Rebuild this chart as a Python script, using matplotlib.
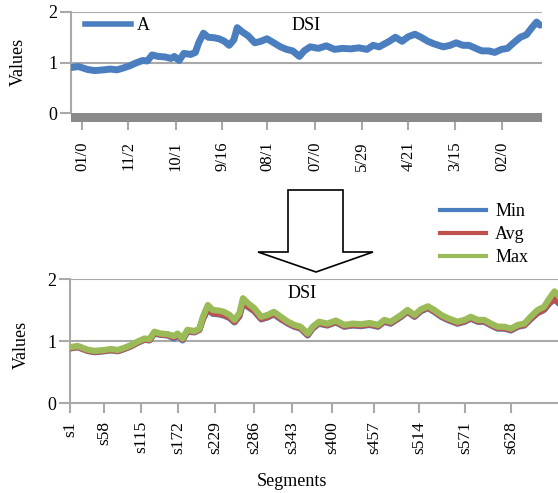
import matplotlib
matplotlib.use("Agg")
import matplotlib.pyplot as plt
from matplotlib.patches import Polygon, Rectangle
from matplotlib.lines import Line2D

plt.rcParams["font.family"] = ["Liberation Serif", "DejaVu Serif"]

# ---- data -------------------------------------------------------------
samples = [0, 11, 25, 35, 49, 58, 68, 77, 87, 96,
           106, 113, 120, 129, 139, 148, 153, 160, 167, 177,
           184, 189, 196, 203, 212, 219, 227, 234, 241, 246,
           253, 262, 272, 281, 290, 300, 310, 319, 328, 338,
           345, 354, 366, 378, 390, 402, 414, 426, 438, 447,
           456, 471, 480, 490, 499, 509, 518, 528, 537, 551,
           561, 570, 580, 589, 599, 608, 618, 627, 637, 646,
           655, 665, 674, 682, 689, 694]

max_vals = [0.90, 0.92, 0.86, 0.84, 0.855, 0.87, 0.855, 0.89, 0.935, 0.99,
            1.04, 1.03, 1.15, 1.12, 1.11, 1.08, 1.12, 1.04, 1.18, 1.16,
            1.20, 1.39, 1.58, 1.50, 1.49, 1.47, 1.42, 1.34, 1.45, 1.69,
            1.61, 1.53, 1.39, 1.42, 1.47, 1.39, 1.31, 1.26, 1.23, 1.12,
            1.23, 1.31, 1.28, 1.33, 1.26, 1.28, 1.27, 1.29, 1.26, 1.34,
            1.31, 1.42, 1.50, 1.42, 1.51, 1.56, 1.50, 1.42, 1.37, 1.31,
            1.34, 1.39, 1.34, 1.34, 1.28, 1.23, 1.23, 1.20, 1.26, 1.28,
            1.39, 1.50, 1.55, 1.69, 1.80, 1.74]

avg_vals = [0.885, 0.905, 0.845, 0.825, 0.84, 0.855, 0.84, 0.875, 0.92, 0.975,
            1.025, 1.015, 1.13, 1.105, 1.095, 1.06, 1.105, 1.025, 1.16, 1.145,
            1.185, 1.36, 1.52, 1.45, 1.44, 1.42, 1.38, 1.31, 1.41, 1.63,
            1.56, 1.49, 1.36, 1.39, 1.44, 1.36, 1.29, 1.24, 1.21, 1.10,
            1.21, 1.29, 1.26, 1.31, 1.24, 1.26, 1.25, 1.27, 1.24, 1.32,
            1.29, 1.40, 1.48, 1.40, 1.49, 1.54, 1.48, 1.40, 1.35, 1.29,
            1.32, 1.37, 1.32, 1.32, 1.26, 1.21, 1.21, 1.18, 1.24, 1.26,
            1.36, 1.46, 1.51, 1.62, 1.68, 1.63]

min_vals = [0.88, 0.90, 0.84, 0.82, 0.835, 0.85, 0.835, 0.87, 0.915, 0.97,
            1.02, 1.01, 1.12, 1.10, 1.09, 1.04, 1.10, 1.01, 1.15, 1.14,
            1.18, 1.35, 1.51, 1.44, 1.43, 1.41, 1.37, 1.30, 1.40, 1.62,
            1.55, 1.48, 1.35, 1.38, 1.43, 1.35, 1.28, 1.23, 1.20, 1.09,
            1.20, 1.28, 1.25, 1.30, 1.23, 1.25, 1.24, 1.26, 1.23, 1.31,
            1.28, 1.39, 1.47, 1.39, 1.48, 1.53, 1.47, 1.39, 1.34, 1.28,
            1.31, 1.36, 1.31, 1.31, 1.25, 1.20, 1.20, 1.17, 1.23, 1.25,
            1.35, 1.45, 1.50, 1.61, 1.67, 1.62]

a_vals = max_vals

date_labels = ["01/0", "11/2", "10/1", "9/16", "08/1",
               "07/0", "5/29", "4/21", "3/15", "02/0"]
date_tick_pos = [17, 85, 155, 224, 290, 361, 430, 499, 568, 638]

seg_labels = ["s1", "s58", "s115", "s172", "s229", "s286",
              "s343", "s400", "s457", "s514", "s571", "s628"]
seg_tick_pos = [0, 48, 101, 154, 206, 262, 316, 373, 432, 496, 562, 627]

y_ticks = [0, 1, 2]

# ---- styling ----------------------------------------------------------
W, H = 558, 493
FS = 13
GRID = "#a9a9a9"
BLUE = "#4a7ebf"
RED = "#c0504d"
GREEN = "#9bbb59"


def fx(px):
    return px / W


def fy(py):
    return 1 - py / H


fig = plt.figure(figsize=(W / 100, H / 100), dpi=100)

# ---- upper panel: input series ---------------------------------------
ax1 = fig.add_axes([fx(71), fy(113), 471 / W, 101 / H])
ax1.set_xlim(0, 697)
ax1.set_ylim(0, 2)
for v in (1, 2):
    ax1.axhline(v, color=GRID, lw=1.5, zorder=1)
for s in ("top", "right", "bottom"):
    ax1.spines[s].set_visible(False)
ax1.spines["left"].set_color(GRID)
ax1.spines["left"].set_linewidth(1.5)
ax1.plot(samples, a_vals, color=BLUE, lw=5, solid_capstyle="round",
         solid_joinstyle="round", zorder=3, label="A")
ax1.add_patch(Rectangle((0, -0.09), 1, 0.09, transform=ax1.transAxes,
                        facecolor="#8a8a8a", edgecolor="none",
                        clip_on=False, zorder=5))
ax1.set_yticks(y_ticks)
ax1.set_yticklabels([str(t) for t in y_ticks], fontsize=FS)
ax1.set_xticks(date_tick_pos)
ax1.set_xticklabels(date_labels, rotation=90, fontsize=12)
ax1.tick_params(axis="y", length=8, width=1.5, color=GRID, pad=2)
ax1.tick_params(axis="x", length=12.5, width=1.5, color=GRID, pad=8)
ax1.text(0.5, 0.87, "DSI", transform=ax1.transAxes, fontsize=FS,
         ha="center", va="center", zorder=6)
fig.text(fx(18), fy(62), "Values", rotation=90, fontsize=FS,
         ha="center", va="center")
fig.legend(handles=[Line2D([], [], color=BLUE, lw=4)], labels=["A"],
           loc="center left", bbox_to_anchor=(fx(85), fy(26)),
           frameon=False, fontsize=FS, handlelength=2.55,
           handletextpad=0.3, borderpad=0, borderaxespad=0)

# ---- lower panel: per-segment min / avg / max ------------------------
ax2 = fig.add_axes([fx(70), fy(403), 488 / W, 124 / H])
ax2.set_xlim(0, 694)
ax2.set_ylim(0, 2)
for v in (1, 2):
    ax2.axhline(v, color=GRID, lw=1.5, zorder=1)
for s in ("top", "right"):
    ax2.spines[s].set_visible(False)
for s in ("left", "bottom"):
    ax2.spines[s].set_color(GRID)
    ax2.spines[s].set_linewidth(1.5)
ax2.plot(samples, min_vals, color=BLUE, lw=4.5, solid_joinstyle="round",
         zorder=3)
ax2.plot(samples, avg_vals, color=RED, lw=4.5, solid_joinstyle="round",
         zorder=3)
ax2.plot(samples, max_vals, color=GREEN, lw=4.5, solid_joinstyle="round",
         zorder=3)
ax2.set_yticks(y_ticks)
ax2.set_yticklabels([str(t) for t in y_ticks], fontsize=FS)
ax2.set_xticks(seg_tick_pos)
ax2.set_xticklabels(seg_labels, rotation=90, fontsize=12.5)
ax2.tick_params(axis="y", length=8, width=1.5, color=GRID, pad=2)
ax2.tick_params(axis="x", length=7, width=1.5, color=GRID, pad=6)
ax2.text((302 - 70) / 488, (403 - 294) / 124, "DSI",
         transform=ax2.transAxes, fontsize=FS, ha="center", va="center")
fig.text(fx(21), fy(345), "Values", rotation=90, fontsize=FS,
         ha="center", va="center")
fig.text(fx(292), fy(481), "Segments", fontsize=FS, ha="center",
         va="center")
fig.legend(handles=[Line2D([], [], color=BLUE, lw=3),
                    Line2D([], [], color=RED, lw=3),
                    Line2D([], [], color=GREEN, lw=3)],
           labels=["Min", "Avg", "Max"],
           loc="upper left", bbox_to_anchor=(fx(440), fy(203)),
           frameon=False, fontsize=FS, handlelength=2.55,
           handletextpad=0.5, labelspacing=0.33, borderpad=0,
           borderaxespad=0)

# ---- arrow between the panels ----------------------------------------
arrow_px = [(288, 190), (343, 190), (343, 252), (373, 252),
            (316, 272), (258, 252), (288, 252)]
fig.add_artist(Polygon([(fx(x), fy(y)) for x, y in arrow_px], closed=True,
                       facecolor="white", edgecolor="black", lw=1.2,
                       transform=fig.transFigure))

fig.savefig("out.png", dpi=100)
